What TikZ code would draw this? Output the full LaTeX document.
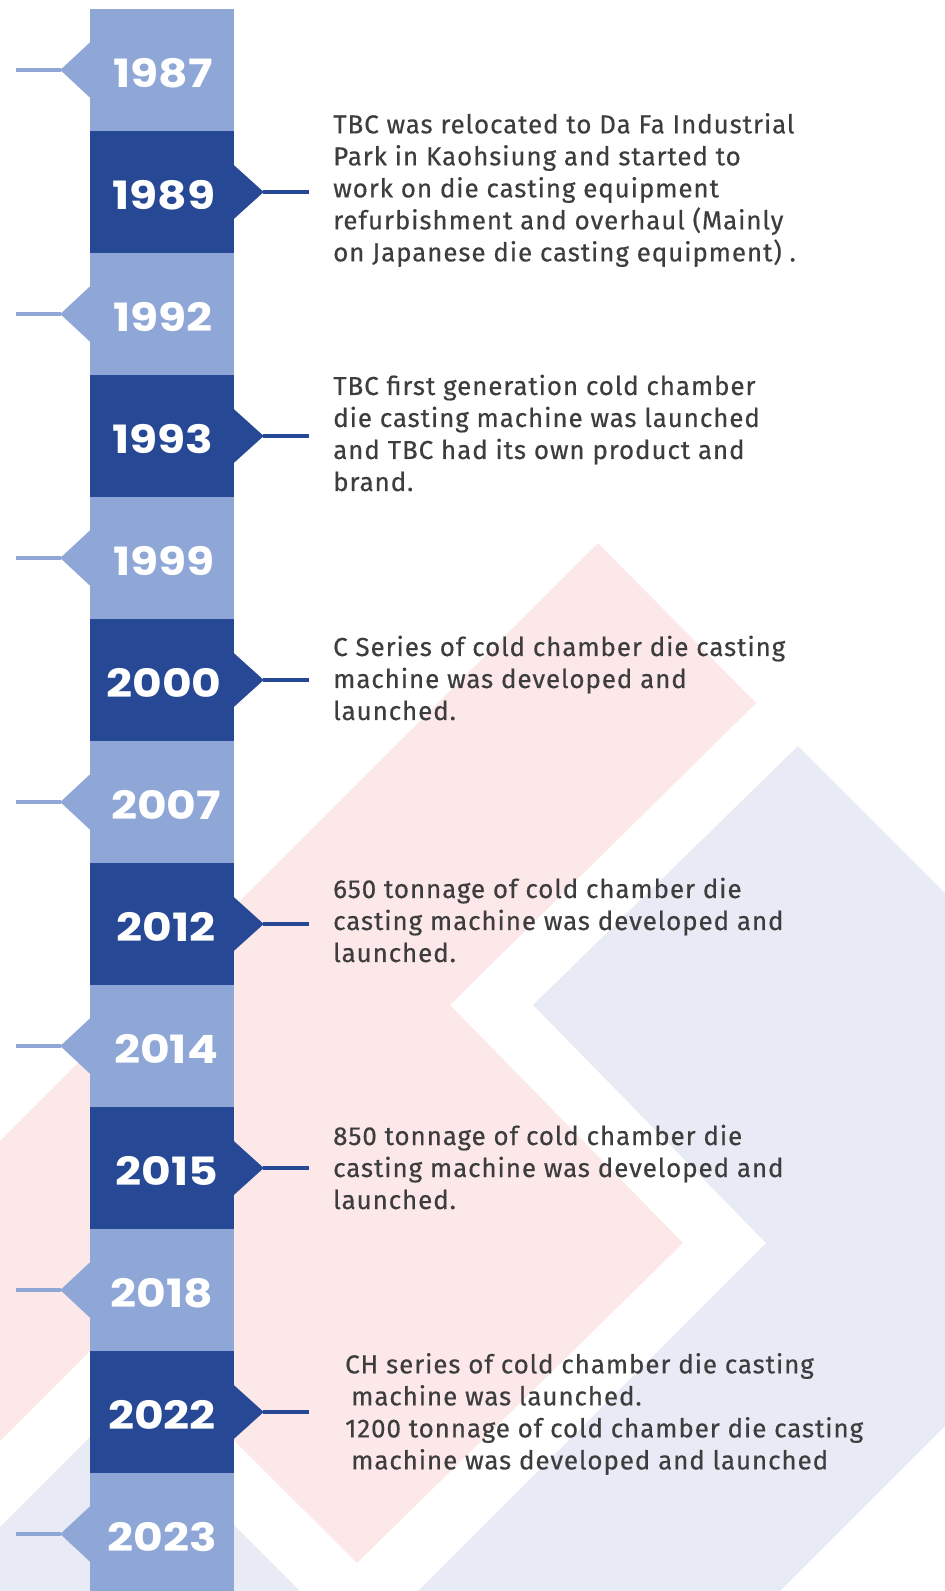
\documentclass[tikz,border=0pt]{standalone}
\usepackage{fontspec}
\setmainfont{Fira Sans}[LetterSpace=3.4, FakeBold=0.4]
\newfontfamily\yearfont{Poppins}[FakeStretch=1.17]
\usetikzlibrary{calc}
\definecolor{pinkbg}{HTML}{FCE7E9}
\definecolor{lavbg}{HTML}{E8EBF5}
\definecolor{lightblue}{HTML}{8EA7D6}
\definecolor{darkblue}{HTML}{264895}
\definecolor{textgray}{HTML}{3D3D3D}
\tikzset{
  lightblock/.style={rectangle, fill=lightblue, draw=none, inner sep=0pt, minimum width=144pt, minimum height=122.6pt},
  darkblock/.style={rectangle, fill=darkblue, draw=none, inner sep=0pt, minimum width=144pt, minimum height=122.6pt},
  yeartext/.style={text=white, inner sep=0pt, font=\yearfont\bfseries\fontsize{39}{39}\selectfont},
  stubL/.style={draw=lightblue, line width=4pt},
  stubR/.style={draw=darkblue, line width=4pt},
  desc/.style={anchor=west, align=left, inner sep=0pt, text=textgray, font=\fontsize{26}{32}\selectfont}
}
\begin{document}
\begin{tikzpicture}[x=1pt,y=-1pt]
\useasboundingbox (0,0) rectangle (945,1591);
\clip (0,0) rectangle (945,1591);
% background shapes
\fill[pinkbg] (598,543) -- (756,703) -- (450,1005) -- (683,1243) -- (357,1563) -- (117,1324) -- (0,1441) -- (0,1141) -- cycle;
\fill[lavbg] (798,746) -- (945,893) -- (945,1426) -- (780,1591) -- (418,1591) -- (766,1243) -- (533,1005) -- cycle;
\fill[lavbg] (0,1527) -- (118,1409) -- (300,1591) -- (0,1591) -- cycle;
% light blocks with left pointers
\foreach \i/\yr/\xc in {0/1987/163, 2/1992/163, 4/1999/164, 6/2007/166, 8/2014/166, 10/2018/162, 12/2023/162} {
  \node[lightblock] (b\yr) at (161.5, {70+122*\i}) {};
  \fill[lightblue] ($(b\yr.west)+(0.5,-27.5)$) -- ($(b\yr.west)+(-29,0)$) -- ($(b\yr.west)+(0.5,27.5)$) -- cycle;
  \coordinate (t\yr) at ($(b\yr.west)+(-28,0)$);
  \coordinate (e\yr) at (16, {70+122*\i});
  \draw[stubL] (t\yr) -- (e\yr);
  \node[yeartext] (y\yr) at (\xc, {73+122*\i}) {\yr};
}
% dark blocks with right pointers
\foreach \i/\yr/\xc in {1/1989/164, 3/1993/163, 5/2000/164, 7/2012/166, 9/2015/167, 11/2022/162} {
  \node[darkblock] (b\yr) at (161.5, {70+122*\i}) {};
  \fill[darkblue] ($(b\yr.east)+(-0.5,-27.5)$) -- ($(b\yr.east)+(30,0)$) -- ($(b\yr.east)+(-0.5,27.5)$) -- cycle;
  \coordinate (t\yr) at ($(b\yr.east)+(29,0)$);
  \coordinate (e\yr) at (309, {70+122*\i});
  \draw[stubR] (t\yr) -- (e\yr);
  \node[yeartext] (y\yr) at (\xc, {73+122*\i}) {\yr};
}
% descriptions
\node[desc] (d1989) at (333,190) {TBC was relocated to Da Fa Industrial\\Park in Kaohsiung and started to\\work on die casting equipment\\refurbishment and overhaul (Mainly\\on Japanese die casting equipment) .};
\node[desc] (d1993) at (333,433) {TBC first generation cold chamber\\die casting machine was launched\\and TBC had its own product and\\brand.};
\node[desc] (d2000) at (333,678) {C Series of cold chamber die casting\\machine was developed and\\launched.};
\node[desc] (d2012) at (333,920) {650 tonnage of cold chamber die\\casting machine was developed and\\launched.};
\node[desc] (d2015) at (333,1167) {850 tonnage of cold chamber die\\casting machine was developed and\\launched.};
\node[desc] (d2022) at (345,1414) {CH series of cold chamber die casting\\\hspace*{6pt}machine was launched.\\1200 tonnage of cold chamber die casting\\\hspace*{6pt}machine was developed and launched};
\end{tikzpicture}
\end{document}
